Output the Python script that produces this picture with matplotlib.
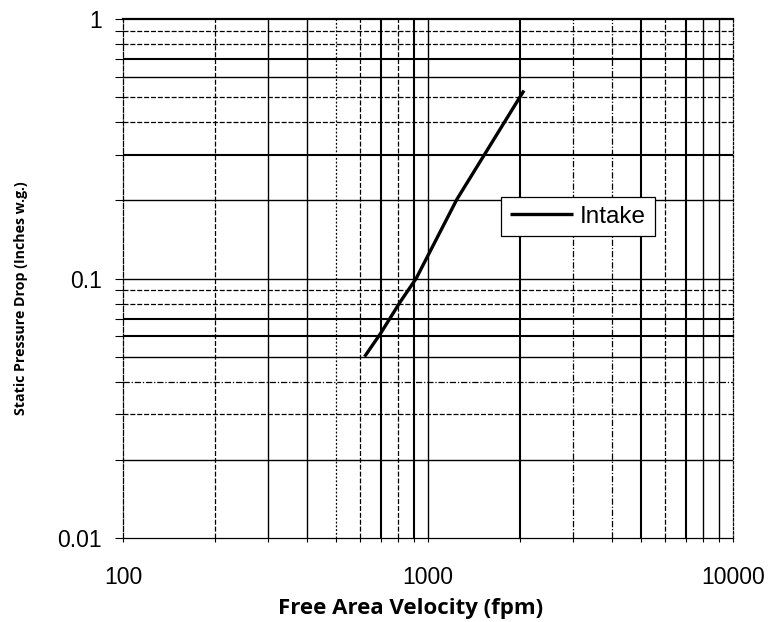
import matplotlib.pyplot as plt
from matplotlib.ticker import NullFormatter

# data
velocity = [620, 700, 810, 915, 1245, 2065]
pressure_drop = [0.050, 0.0615, 0.081, 0.100, 0.202, 0.53]

x_ticks = [100, 1000, 10000]
x_tick_labels = ['100', '1000', '10000']
y_ticks = [0.01, 0.1, 1]
y_tick_labels = ['0.01', '0.1', '1']

# look of each grid line (the scan mixes solid and broken lines)
SOLID_THICK = dict(ls='-', lw=1.5)
SOLID = dict(ls='-', lw=1.0)
DASH = dict(ls=(0, (4, 1.5)), lw=0.9)
DOT = dict(ls=(0, (1.5, 1.5)), lw=0.9)
DASHDOT = dict(ls=(0, (5, 1.5, 1, 1.5)), lw=0.9)

x_grid_style = {200: DASH, 300: SOLID, 400: SOLID, 500: DOT, 600: DASH,
                700: SOLID_THICK, 800: DASH, 900: SOLID_THICK, 1000: SOLID,
                2000: SOLID_THICK, 3000: DASHDOT, 4000: DASHDOT, 5000: SOLID_THICK,
                6000: DASH, 7000: SOLID_THICK, 8000: SOLID, 9000: SOLID}
y_grid_style = {0.9: DASH, 0.8: DASH, 0.7: SOLID_THICK, 0.6: SOLID, 0.5: DASH,
                0.4: DASH, 0.3: SOLID_THICK, 0.2: SOLID, 0.1: SOLID, 0.09: DASH,
                0.08: DASH, 0.07: SOLID_THICK, 0.06: SOLID_THICK, 0.05: SOLID,
                0.04: DASHDOT, 0.03: DASH, 0.02: SOLID}


def style_grid(ticks, styles):
    for t in ticks:
        v = t.get_loc()
        st = None
        for key, s in styles.items():
            if abs(v - key) / key < 1e-6:
                st = s
        if st is None:
            t.gridline.set_visible(False)
            continue
        t.gridline.set_linestyle(st['ls'])
        t.gridline.set_linewidth(st['lw'])
        t.gridline.set_color('black')


fig = plt.figure(figsize=(7.78, 6.22), dpi=100)
ax = fig.add_axes([0.158, 0.135, 0.784, 0.8345])

ax.plot(velocity, pressure_drop, color='black', lw=2.4, label='Intake', zorder=5,
        solid_capstyle='butt')
ax.set_xscale('log')
ax.set_yscale('log')
ax.set_xlim(100, 10000)
ax.set_ylim(0.01, 1)

ax.set_xticks(x_ticks, labels=x_tick_labels)
ax.set_yticks(y_ticks, labels=y_tick_labels)
ax.xaxis.set_minor_formatter(NullFormatter())
ax.yaxis.set_minor_formatter(NullFormatter())

for lab in ax.get_xticklabels() + ax.get_yticklabels():
    lab.set_fontfamily('Liberation Sans')
    lab.set_fontsize(16.5)

ax.tick_params(axis='x', which='both', length=3, width=0.8, pad=17, direction='out')
ax.tick_params(axis='y', which='both', length=6, width=0.8, pad=9, direction='out')

ax.grid(True, which='both')
fig.canvas.draw()
style_grid(ax.xaxis.get_minor_ticks(), x_grid_style)
style_grid(ax.yaxis.get_minor_ticks(), y_grid_style)
style_grid(ax.xaxis.get_major_ticks(), x_grid_style)
style_grid(ax.yaxis.get_major_ticks(), y_grid_style)

ax.spines['top'].set_linewidth(1.6)
ax.spines['bottom'].set_linewidth(0.9)
ax.spines['left'].set_linewidth(0.9)
ax.spines['left'].set_linestyle((0, (4, 1.5)))
ax.spines['right'].set_linewidth(0.9)
ax.spines['right'].set_linestyle((0, (2, 1.5)))

ax.set_xlabel('Free Area Velocity (fpm)', fontfamily='Open Sans', fontweight='bold',
              fontsize=16)
ax.set_ylabel('Static Pressure Drop (Inches w.g.)', fontfamily='Open Sans',
              fontweight='bold', fontsize=10.2)
ax.yaxis.set_label_coords(-0.155, 0.463)
ax.xaxis.set_label_coords(0.472, -0.116)

leg = ax.legend(loc='upper left', bbox_to_anchor=(0.62, 0.657), borderaxespad=0,
                fancybox=False, framealpha=1, edgecolor='black', handlelength=2.6,
                handletextpad=0.3, borderpad=0.35,
                prop={'family': 'Liberation Sans', 'size': 17.5})
leg.get_frame().set_linewidth(0.9)
leg.set_zorder(10)

plt.savefig('out.png', dpi=100)
plt.close()
